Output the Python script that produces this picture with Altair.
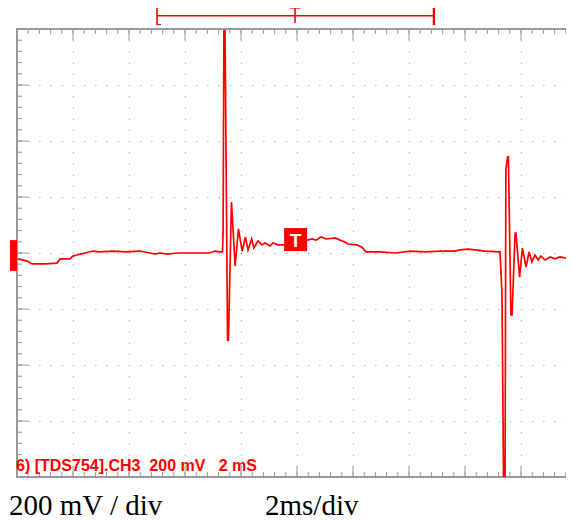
import altair as alt
import pandas as pd

# ---- data (time in ms, level in mV; 2 ms/div, 200 mV/div) ----
trace_ms = [0.04, 0.36, 0.54, 1.0, 1.43, 1.54, 1.89, 2.0, 2.14, 2.25, 2.43, 2.71, 2.96, 3.43, 3.89,
            4.39, 4.75, 4.93, 5.11, 5.36, 5.75, 6.18, 6.89, 7.07, 7.25, 7.34, 7.36, 7.39, 7.43, 7.52,
            7.55, 7.66, 7.79, 7.91, 8.04, 8.16, 8.25, 8.38, 8.46, 8.61, 8.75, 8.86, 9.04, 9.14, 9.32,
            9.57, 10.36, 10.54, 10.68, 10.86, 11.04, 11.36, 11.54, 11.71, 11.82, 12.14, 12.32, 12.46,
            12.96, 13.5, 14.04, 14.57, 15.11, 15.64, 15.82, 16.11, 16.36, 16.71, 17.25, 17.32, 17.38,
            17.43, 17.46, 17.52, 17.55, 17.64, 17.68, 17.79, 17.82, 17.95, 18.05, 18.18, 18.29, 18.39,
            18.5, 18.61, 18.71, 18.86, 19.04, 19.21, 19.39, 19.61, 19.89]
trace_mv = [-21, -29, -39, -39, -36, -21, -21, -11, -7, -4, 0, 7, 4, 7, 4,
            7, 0, -4, 0, -4, 0, 0, 0, 7, 4, 4, 71, 793, 793, -311,
            -311, 182, -46, 86, 7, 57, 11, 50, 18, 43, 29, 36, 25, 36, 29,
            29, 46, 50, 46, 57, 50, 54, 46, 39, 32, 29, 21, 4,
            4, 0, 7, 4, 7, 7, 11, 14, 11, 7, 4, -143, -850,
            -850, 296, 343, 343, -221, -221, 71, 71, -86, 18, -50, 4, -32,
            -7, -25, -11, -25, -14, -21, -14, -18, -18]

major_ms = [0, 2, 4, 6, 8, 10, 12, 14, 16, 18, 20]
major_mv = [-800, -600, -400, -200, 0, 200, 400, 600, 800]
minor_ms = [round(i * 0.4, 1) for i in range(51)]
minor_mv = [i * 40 - 800 for i in range(41)]

trigger_ms = [9.95]
trigger_mv = [48]
window_ms = [5.0, 9.93, 14.89]          # record window: start, trigger, end
ground_mv = [46, -64]                   # channel marker extent

label_scope = "6) [TDS754].CH3\u00a0 200 mV\u00a0\u00a0 2 mS"
label_volts = "200 mV / div"
label_time = "2ms/div"

# ---- geometry ----
W, H = 549, 448
X_MAX = W / 28.0
xs = alt.Scale(domain=[0, X_MAX], nice=False, zero=False)
ys = alt.Scale(domain=[-800, 800], nice=False, zero=False)
GRID = "#8c8c8c"
FRAME = "#9a9a9a"
RED = "#ff0000"


def X(f):
    return alt.X(f, type="quantitative", scale=xs, axis=None)


def X2(f):
    return alt.X2(f)


def Y(f):
    return alt.Y(f, type="quantitative", scale=ys, axis=None)


layers = []

# frame
frame_df = pd.DataFrame({"x0": [0], "x1": [20], "y0": [-800], "y1": [800]})
layers.append(alt.Chart(frame_df).mark_rect(fill=None, stroke=FRAME, strokeWidth=2).encode(
    x=X("x0"), x2=X2("x1"), y=Y("y0"), y2=alt.Y2("y1")))

# dotted grid
vg = pd.DataFrame({"ms": major_ms, "top": [800] * len(major_ms), "bot": [-800] * len(major_ms)})
layers.append(alt.Chart(vg).mark_rule(stroke=GRID, strokeWidth=1, strokeDash=[1, 10.2], xOffset=0.5).encode(
    x=X("ms"), y=Y("top"), y2=alt.Y2("bot")))
hg = pd.DataFrame({"mv": major_mv, "l": [0] * len(major_mv), "r": [20] * len(major_mv)})
layers.append(alt.Chart(hg).mark_rule(stroke=GRID, strokeWidth=1, strokeDash=[1, 10.2], yOffset=0.5).encode(
    y=Y("mv"), x=X("l"), x2=X2("r")))

# border ticks
mx = pd.DataFrame({"ms": minor_ms})
Mx = pd.DataFrame({"ms": major_ms})
my = pd.DataFrame({"mv": minor_mv})
My = pd.DataFrame({"mv": major_mv})
for df, ln in ((mx, 5), (Mx, 11)):
    layers.append(alt.Chart(df).mark_rule(stroke=FRAME, strokeWidth=1).encode(
        x=X("ms"), y=alt.value(0), y2=alt.value(ln)))
    layers.append(alt.Chart(df).mark_rule(stroke=FRAME, strokeWidth=1).encode(
        x=X("ms"), y=alt.value(H), y2=alt.value(H - ln)))
for df, ln in ((my, 5), (My, 11)):
    layers.append(alt.Chart(df).mark_rule(stroke=FRAME, strokeWidth=1).encode(
        y=Y("mv"), x=alt.value(0), x2=alt.value(ln)))

# trace
tr = pd.DataFrame({"ms": trace_ms, "mv": trace_mv})
layers.append(alt.Chart(tr).mark_line(color=RED, strokeWidth=1.7, clip=True).encode(
    x=X("ms"), y=Y("mv"), order="ms:Q"))

# trigger marker
tg = pd.DataFrame({"ms": trigger_ms, "mv": trigger_mv, "t": ["T"]})
layers.append(alt.Chart(tg).mark_square(size=529, color=RED, opacity=1, filled=True).encode(
    x=X("ms"), y=Y("mv")))
layers.append(alt.Chart(tg).mark_text(color="white", font="Liberation Sans", fontWeight="bold",
                                      fontSize=19, align="center", baseline="middle", dy=1).encode(
    x=X("ms"), y=Y("mv"), text="t:N"))

# ground marker on the left
gm = pd.DataFrame({"a": [ground_mv[0]], "b": [ground_mv[1]]})
layers.append(alt.Chart(gm).mark_rect(color=RED).encode(
    y=Y("a"), y2=alt.Y2("b"), x=alt.value(-7), x2=alt.value(0)))

# record window bracket on top
wd = pd.DataFrame({"s": [window_ms[0]], "t": [window_ms[1]], "e": [window_ms[2]]})
layers.append(alt.Chart(wd).mark_rule(color=RED, strokeWidth=1.6).encode(
    x=X("s"), x2=X2("e"), y=alt.value(-13.3)))
layers.append(alt.Chart(wd).mark_rule(color=RED, strokeWidth=1.6).encode(
    x=X("s"), y=alt.value(-22), y2=alt.value(-4)))
layers.append(alt.Chart(wd).mark_rule(color=RED, strokeWidth=1.2, x2Offset=4).encode(
    x=X("s"), x2=X2("s"), y=alt.value(-21.5)))
layers.append(alt.Chart(wd).mark_rule(color=RED, strokeWidth=1.2, x2Offset=4).encode(
    x=X("s"), x2=X2("s"), y=alt.value(-4.5)))
layers.append(alt.Chart(wd).mark_rule(color=RED, strokeWidth=2.4).encode(
    x=X("e"), y=alt.value(-22), y2=alt.value(-4)))
layers.append(alt.Chart(wd).mark_rule(color=RED, strokeWidth=1.2, xOffset=-3).encode(
    x=X("e"), x2=X2("e"), y=alt.value(-21.5)))
layers.append(alt.Chart(wd).mark_rule(color=RED, strokeWidth=1.6).encode(
    x=X("t"), y=alt.value(-21.5), y2=alt.value(-6)))
layers.append(alt.Chart(wd).mark_rule(color=RED, strokeWidth=1.6, xOffset=-5.5, x2Offset=5.5).encode(
    x=X("t"), x2=X2("t"), y=alt.value(-21.2)))

# labels
lab = pd.DataFrame({"t": [label_scope]})
layers.append(alt.Chart(lab).mark_text(color=RED, font="Liberation Sans", fontWeight="bold", fontSize=16,
                                       align="left", baseline="alphabetic").encode(
    x=alt.value(-1), y=alt.value(442), text="t:N"))
cap1 = pd.DataFrame({"t": [label_volts]})
layers.append(alt.Chart(cap1).mark_text(color="black", font="Liberation Serif", fontSize=29,
                                        align="left", baseline="alphabetic").encode(
    x=alt.value(-8), y=alt.value(486), text="t:N"))
cap2 = pd.DataFrame({"t": [label_time]})
layers.append(alt.Chart(cap2).mark_text(color="black", font="Liberation Serif", fontSize=29,
                                        align="left", baseline="alphabetic").encode(
    x=alt.value(248), y=alt.value(486), text="t:N"))

chart = alt.layer(*layers).properties(
    width=W, height=H,
    padding={"left": 9, "top": 21, "right": 0, "bottom": 44},
    autosize=alt.AutoSizeParams(type="none"),
    background="white",
).configure_view(stroke=None)

chart.save("out.html", embed_options={"renderer": "svg", "actions": False})
